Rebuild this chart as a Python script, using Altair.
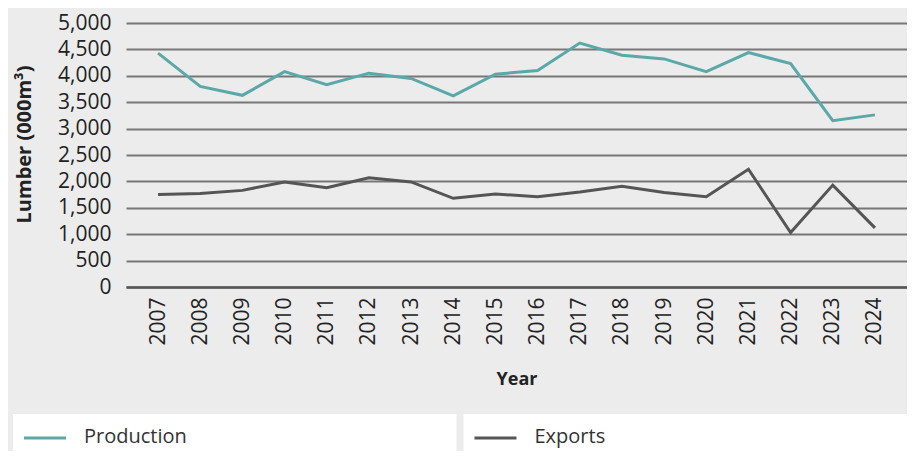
import altair as alt
import pandas as pd

years = [str(y) for y in range(2007, 2025)]
production = [4430, 3800, 3630, 4080, 3830, 4050, 3950, 3620, 4030, 4100,
              4620, 4390, 4320, 4080, 4440, 4230, 3150, 3260]
exports = [1750, 1770, 1830, 1990, 1880, 2070, 1990, 1680, 1760, 1710,
           1800, 1910, 1790, 1710, 2230, 1030, 1930, 1120]
series = ["Production", "Exports"]
colors = ["#5aa8a8", "#555555"]
y_ticks = list(range(0, 5001, 500))

rows = []
for name, vals in zip(series, [production, exports]):
    for yr, v in zip(years, vals):
        rows.append({"year": yr, "series": name, "value": v})
df = pd.DataFrame(rows)
leg = pd.DataFrame({"series": series})

FONT = "Open Sans"
color_scale = alt.Scale(domain=series, range=colors)

lines = alt.Chart(df).mark_line(strokeWidth=3).encode(
    x=alt.X("year:O", sort=years,
            scale=alt.Scale(type="point", padding=0.76),
            axis=alt.Axis(title="Year", labelAngle=270, labelPadding=10,
                          ticks=False, domain=True, domainColor="#555555",
                          domainWidth=2.5, labelFontSize=21, labelColor="#222222",
                          titleFontSize=18, titleFontWeight="bold",
                          titlePadding=25, titleColor="#222222", labelFont=FONT,
                          titleFont=FONT)),
    y=alt.Y("value:Q", scale=alt.Scale(domain=[0, 5000]),
            axis=alt.Axis(title="Lumber (000m³)", values=y_ticks, format=",d",
                          grid=True, gridColor="#777777", gridWidth=2,
                          ticks=False, domain=False, labelPadding=15,
                          labelFontSize=21, labelColor="#222222",
                          titleFontSize=20, titleFontWeight="bold",
                          titlePadding=23, titleColor="#222222", titleY=121,
                          labelFont=FONT, titleFont=FONT)),
    color=alt.Color("series:N", scale=color_scale, legend=None),
)

box_start = 13 - 126
box_end = 907 - 126
gap = 7
box_w = (box_end - box_start - gap) / 2
leg_x_scale = alt.Scale(domain=series, range=[box_start, box_end],
                        paddingInner=gap / (box_w + gap), paddingOuter=0)
sym_scale = alt.Scale(type="point", domain=series, padding=0,
                      range=[box_start + 32, box_start + box_w + gap + 32])
txt_scale = alt.Scale(type="point", domain=series, padding=0,
                      range=[box_start + 71, box_start + box_w + gap + 71])

leg_box = alt.Chart(leg).mark_rect(color="white").encode(
    x=alt.X("series:N", scale=leg_x_scale, axis=None, sort=series),
    y=alt.value(391), y2=alt.value(428),
)
leg_sym = alt.Chart(leg).mark_point(shape="stroke", size=42 * 42, strokeWidth=3,
                                    filled=False, opacity=1).encode(
    x=alt.X("series:N", scale=sym_scale, axis=None, sort=series),
    y=alt.value(415),
    color=alt.Color("series:N", scale=color_scale, legend=None),
)
leg_txt = alt.Chart(leg).mark_text(align="left", baseline="middle",
                                   fontSize=20, font=FONT, color="#333333").encode(
    x=alt.X("series:N", scale=txt_scale, axis=None, sort=series),
    y=alt.value(414),
    text="series:N",
)

chart = alt.layer(lines, leg_box, leg_sym, leg_txt).resolve_scale(
    x="independent"
).properties(
    width=781, height=264, background="#ececec",
    padding={"left": 5, "top": 4, "right": 0, "bottom": 0},
).configure_view(stroke=None)

chart.save("out.html", embed_options={"renderer": "svg", "actions": False})
